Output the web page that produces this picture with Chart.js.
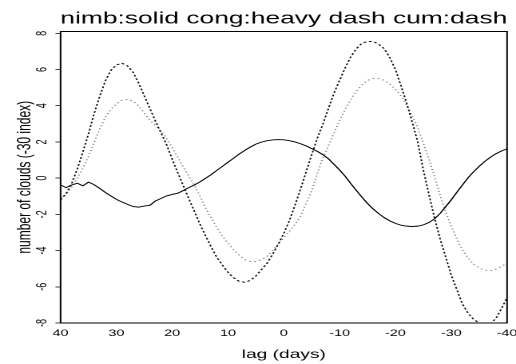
<!DOCTYPE html>
<html><head><meta charset="utf-8">
<script src="https://cdn.jsdelivr.net/npm/chart.js@4"></script>
<style>
html,body{margin:0;padding:0;background:#fff;overflow:hidden;}
#wrap{width:516px;height:364px;overflow:hidden;}
canvas{display:block;transform-origin:0 0;transform:scaleX(1.5975);}
</style></head><body>
<div id="wrap"><canvas id="c" width="323" height="364"></canvas></div>
<script>
const lags = [40,39,38,37,36,35,34,33,32,31,30,29,28,27,26,25,24,23,22,21,20,19,18,17,16,15,14,13,12,11,10,9,8,7,6,5,4,3,2,1,0,-1,-2,-3,-4,-5,-6,-7,-8,-9,-10,-11,-12,-13,-14,-15,-16,-17,-18,-19,-20,-21,-22,-23,-24,-25,-26,-27,-28,-29,-30,-31,-32,-33,-34,-35,-36,-37,-38,-39,-40];
const nimb = [-0.38,-0.52,-0.38,-0.28,-0.42,-0.22,-0.36,-0.56,-0.78,-0.98,-1.17,-1.32,-1.45,-1.57,-1.6,-1.54,-1.5,-1.26,-1.12,-0.98,-0.9,-0.83,-0.68,-0.52,-0.37,-0.2,0.0,0.2,0.43,0.65,0.88,1.1,1.33,1.53,1.72,1.88,1.99,2.07,2.11,2.13,2.12,2.07,2.0,1.9,1.78,1.63,1.48,1.3,1.07,0.76,0.45,0.1,-0.3,-0.68,-1.05,-1.4,-1.7,-1.96,-2.18,-2.36,-2.5,-2.6,-2.65,-2.67,-2.65,-2.58,-2.45,-2.25,-1.95,-1.58,-1.2,-0.78,-0.38,0.02,0.35,0.65,0.92,1.15,1.35,1.5,1.62];
const cong = [-1.2,-0.85,-0.3,0.5,1.45,2.45,3.55,4.5,5.35,5.95,6.25,6.35,6.2,5.85,5.25,4.55,3.85,3.15,2.5,1.85,1.05,0.3,-0.42,-1.15,-1.85,-2.55,-3.2,-3.8,-4.38,-4.8,-5.2,-5.5,-5.7,-5.75,-5.65,-5.4,-5.05,-4.7,-4.2,-3.65,-3.05,-2.35,-1.5,-0.6,0.35,1.3,2.2,2.98,3.85,4.7,5.4,6.1,6.7,7.15,7.45,7.55,7.55,7.4,7.15,6.65,6.0,5.1,4.15,3.1,2.0,0.45,-0.9,-2.2,-3.35,-4.35,-5.35,-6.15,-6.95,-7.45,-7.8,-8.0,-8.1,-8.05,-7.75,-7.2,-6.6];
const cum = [-1.1,-0.9,-0.5,0.0,0.55,1.2,1.95,2.7,3.35,3.8,4.1,4.3,4.36,4.25,4.0,3.6,3.2,2.9,2.6,2.2,1.7,1.15,0.6,0.1,-0.4,-1.0,-1.65,-2.2,-2.73,-3.2,-3.6,-3.95,-4.25,-4.5,-4.6,-4.6,-4.5,-4.32,-4.0,-3.62,-3.3,-2.95,-2.55,-2.1,-1.4,-0.7,0.25,1.1,1.8,2.5,3.2,3.8,4.35,4.8,5.15,5.4,5.5,5.5,5.4,5.2,4.9,4.55,4.05,3.45,2.8,1.95,1.05,0.1,-0.95,-1.85,-2.65,-3.35,-3.95,-4.4,-4.75,-4.95,-5.08,-5.12,-5.02,-4.87,-4.7];
const xTicks = [40,30,20,10,0,-10,-20,-30,-40];
const yTicks = [-8,-6,-4,-2,0,2,4,6,8];
const titleText = 'nimb:solid cong:heavy dash cum:dash';
const xTitle = 'lag (days)';
const yTitle = 'number of clouds (-30 index)';

const pts = arr => arr.map((v, i) => ({x: lags[i], y: v}));
Chart.defaults.font.family = '"Liberation Sans", Arial, Helvetica, sans-serif';
Chart.defaults.color = '#000';

const framePlugin = {
  id: 'frame',
  afterLayout(chart) {
    const t = chart.titleBlock, a = chart.chartArea;
    if (t && a) { t.left = a.left - 25; t.right = a.right + 25; t.width = t.right - t.left; }
  },
  afterDatasetsDraw(chart) {
    const {ctx, chartArea: a} = chart;
    ctx.save();
    ctx.strokeStyle = '#000';
    ctx.lineWidth = 1;
    ctx.strokeRect(a.left, a.top, a.right - a.left, a.bottom - a.top);
    ctx.restore();
  }
};

new Chart(document.getElementById('c'), {
  type: 'line',
  data: {
    datasets: [
      {label: 'nimb', data: pts(nimb), borderColor: '#000', borderWidth: 0.9, pointRadius: 0, tension: 0, fill: false},
      {label: 'cong', data: pts(cong), borderColor: '#111', borderWidth: 1, borderDash: [1.8, 1.8], pointRadius: 0, tension: 0, fill: false},
      {label: 'cum', data: pts(cum), borderColor: '#808080', borderWidth: 1, borderDash: [1, 2.2], pointRadius: 0, tension: 0, fill: false}
    ]
  },
  options: {
    responsive: false,
    animation: false,
    devicePixelRatio: 2,
    layout: {padding: {left: 0, right: 5.6, top: 0, bottom: 0}},
    plugins: {
      legend: {display: false},
      tooltip: {enabled: false},
      title: {display: true, text: titleText, color: '#000', font: {size: 16.5, weight: 'normal'}, padding: {top: 9, bottom: 2.7}}
    },
    scales: {
      x: {
        type: 'linear', reverse: true, min: -40, max: 40,
        grid: {display: false, drawTicks: false},
        border: {display: false},
        afterBuildTicks: s => { s.ticks = xTicks.map(v => ({value: v})); },
        afterFit: s => { s.height = 41; s.paddingLeft = 0; s.paddingRight = 0; },
        ticks: {font: {size: 9}, padding: 5, autoSkip: false, maxRotation: 0, minRotation: 0, color: '#000'},
        title: {display: true, text: xTitle, font: {size: 12}, color: '#000', padding: {top: 0, bottom: 2}}
      },
      y: {
        type: 'linear', min: -8, max: 8.1,
        grid: {drawOnChartArea: false, drawTicks: true, tickLength: 3.2, color: '#444'},
        border: {display: false},
        afterBuildTicks: s => { s.ticks = yTicks.map(v => ({value: v})); },
        afterFit: s => { s.width = 37.9; s.paddingTop = 0; s.paddingBottom = 0; },
        ticks: {font: {size: 9}, padding: 4, autoSkip: false, minRotation: 90, maxRotation: 90, crossAlign: 'center', color: '#000'},
        title: {display: true, text: yTitle, font: {size: 12}, color: '#000', padding: {top: 8.4, bottom: 0}}
      }
    }
  },
  plugins: [framePlugin]
});
</script>
</body></html>
